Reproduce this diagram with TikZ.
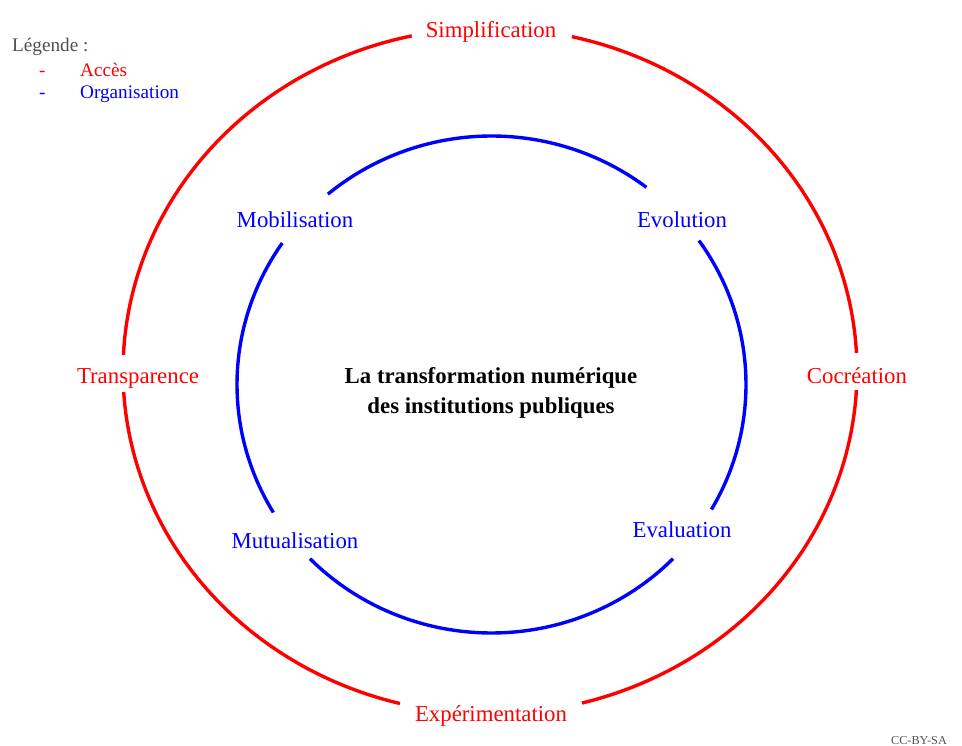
\documentclass[tikz,border=0pt]{standalone}
\usepackage{fontspec}
\setmainfont{Liberation Serif}
\definecolor{accred}{RGB}{255,0,0}
\definecolor{orgblue}{RGB}{0,0,255}
\definecolor{leggrey}{RGB}{80,80,80}
\tikzset{
  outerarc/.style={draw=accred, line width=3.4pt},
  innerarc/.style={draw=orgblue, line width=3.4pt},
  biglabel/.style={inner sep=0pt, text height=15.5pt, text depth=5pt, font=\fontsize{22.8}{27}\selectfont},
  redlabel/.style={biglabel, text=accred},
  bluelabel/.style={biglabel, text=orgblue},
  titlelabel/.style={text=black, inner sep=0pt, align=center, font=\fontsize{22.8}{30}\selectfont\bfseries},
  legendtext/.style={inner sep=0pt, anchor=west, text height=13pt, text depth=4pt, font=\fontsize{19.2}{23}\selectfont},
}
\begin{document}
\begin{tikzpicture}[x=1pt,y=-1pt]
\useasboundingbox (0,0) rectangle (962,746);
% outer (red) ellipse arcs
\draw[outerarc] plot[domain=3.2:75.5, samples=80] ({490+367*cos(\x)},{371+343*sin(\x)});
\draw[outerarc] plot[domain=104.2:176.5, samples=80] ({490+367*cos(\x)},{371+343*sin(\x)});
\draw[outerarc] plot[domain=182.7:257.7, samples=80] ({490+367*cos(\x)},{371+343*sin(\x)});
\draw[outerarc] plot[domain=282.9:357, samples=80] ({490+367*cos(\x)},{371+343*sin(\x)});
% inner (blue) ellipse arcs
\draw[innerarc] plot[domain=-35.4:30.2, samples=80] ({491.5+254.5*cos(\x)},{384.5+248.5*sin(\x)});
\draw[innerarc] plot[domain=44.5:135.5, samples=80] ({491.5+254.5*cos(\x)},{384.5+248.5*sin(\x)});
\draw[innerarc] plot[domain=149:214.7, samples=80] ({491.5+254.5*cos(\x)},{384.5+248.5*sin(\x)});
\draw[innerarc] plot[domain=230:307.5, samples=80] ({491.5+254.5*cos(\x)},{384.5+248.5*sin(\x)});
% red labels
\node[redlabel] (simp) at (491,32) {Simplification};
\node[redlabel] (trans) at (138,378) {Transparence};
\node[redlabel] (cocr) at (857,378) {Cocréation};
\node[redlabel] (exp) at (491,716) {Expérimentation};
% blue labels
\node[bluelabel] (mob) at (295,222) {Mobilisation};
\node[bluelabel] (evol) at (682,222) {Evolution};
\node[bluelabel] (mut) at (295,543) {Mutualisation};
\node[bluelabel] (eval) at (682,532) {Evaluation};
% title
\node[titlelabel] (title) at (491,393) {La transformation numérique\\des institutions publiques};
% legend
\node[legendtext, text=leggrey] (leg) at (12,47) {Légende :};
\node[legendtext, text=accred] (dasha) at (39,72) {-};
\node[legendtext, text=accred] (acc) at (80,72) {Accès};
\node[legendtext, text=orgblue] (dashb) at (39,94) {-};
\node[legendtext, text=orgblue] (org) at (80,94) {Organisation};
% licence
\node[inner sep=0pt, anchor=east, text=leggrey, font=\fontsize{12.2}{14}\selectfont] (lic) at (947,741) {CC-BY-SA};
\end{tikzpicture}
\end{document}
